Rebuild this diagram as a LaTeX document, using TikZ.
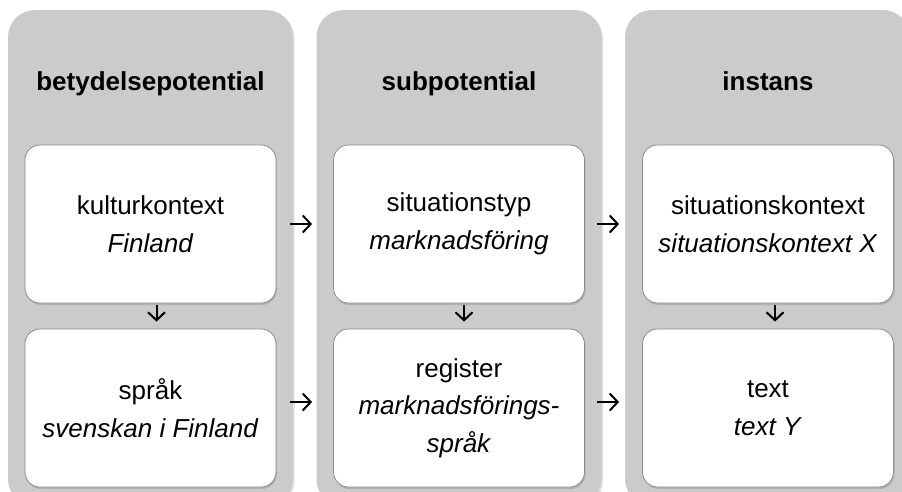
\documentclass[tikz,border=0pt]{standalone}
\usepackage{fontspec}
\setmainfont{Liberation Sans}
\usetikzlibrary{arrows.meta,shadows}
\definecolor{colgray}{HTML}{CBCBCB}
\definecolor{boxline}{HTML}{8C8C8C}
\tikzset{
  column/.style={fill=colgray, rounded corners=27pt,
    drop shadow={shadow xshift=1.5pt, shadow yshift=-1.5pt, opacity=0.25}},
  card/.style={draw=boxline, line width=0.8pt, fill=white, rounded corners=15pt,
    minimum width=251pt, minimum height=158pt, align=center, inner sep=0pt,
    font=\fontsize{26}{37.5}\selectfont,
    drop shadow={shadow xshift=1pt, shadow yshift=-2pt, opacity=0.35}},
  coltitle/.style={font=\fontsize{26}{30}\selectfont\bfseries, anchor=base},
  flow/.style={line width=2pt, arrows={-Straight Barb[length=8pt, width=17pt, line width=2pt]}},
}
\begin{document}
\begin{tikzpicture}[x=1pt,y=-1pt]
\useasboundingbox (0,0) rectangle (902,491);
\begin{scope}
  \clip (0,0) rectangle (902,491);
  \fill[column] (8,10) rectangle (293,506);
  \fill[column] (316.5,10) rectangle (601.5,506);
  \fill[column] (625,10) rectangle (910,506);
\end{scope}
\node[coltitle] (t1) at (150.5,90) {betydelsepotential};
\node[coltitle] (t2) at (459,90) {subpotential};
\node[coltitle] (t3) at (768,90) {instans};

\node[card] (k1) at (150.5,224) {kulturkontext\\\textit{Finland}};
\node[card] (l1) at (150.5,408) {språk\\\textit{svenskan i Finland}};
\node[card] (k2) at (459,224) {situationstyp\\\textit{marknadsföring}};
\node[card] (l2) at (459,408) {register\\\textit{marknadsförings-}\\\textit{språk}};
\node[card] (k3) at (768,224) {situationskontext\\\textit{situationskontext X}};
\node[card] (l3) at (768,408) {text\\\textit{text Y}};

\draw[flow, shorten <=14pt, shorten >=21pt] (k1.east) -- (k2.west);
\draw[flow, shorten <=12pt, shorten >=23pt] (k2.east) -- (k3.west);
\draw[flow, shorten <=14pt, shorten >=21pt] ([yshift=6pt]l1.east) -- ([yshift=6pt]l2.west);
\draw[flow, shorten <=12pt, shorten >=23pt] ([yshift=6pt]l2.east) -- ([yshift=6pt]l3.west);
\draw[flow, shorten <=2pt, shorten >=7pt] ([xshift=6pt]k1.south) -- ([xshift=6pt]l1.north);
\draw[flow, shorten <=2pt, shorten >=7pt] ([xshift=5pt]k2.south) -- ([xshift=5pt]l2.north);
\draw[flow, shorten <=2pt, shorten >=7pt] ([xshift=7pt]k3.south) -- ([xshift=7pt]l3.north);
\end{tikzpicture}
\end{document}
